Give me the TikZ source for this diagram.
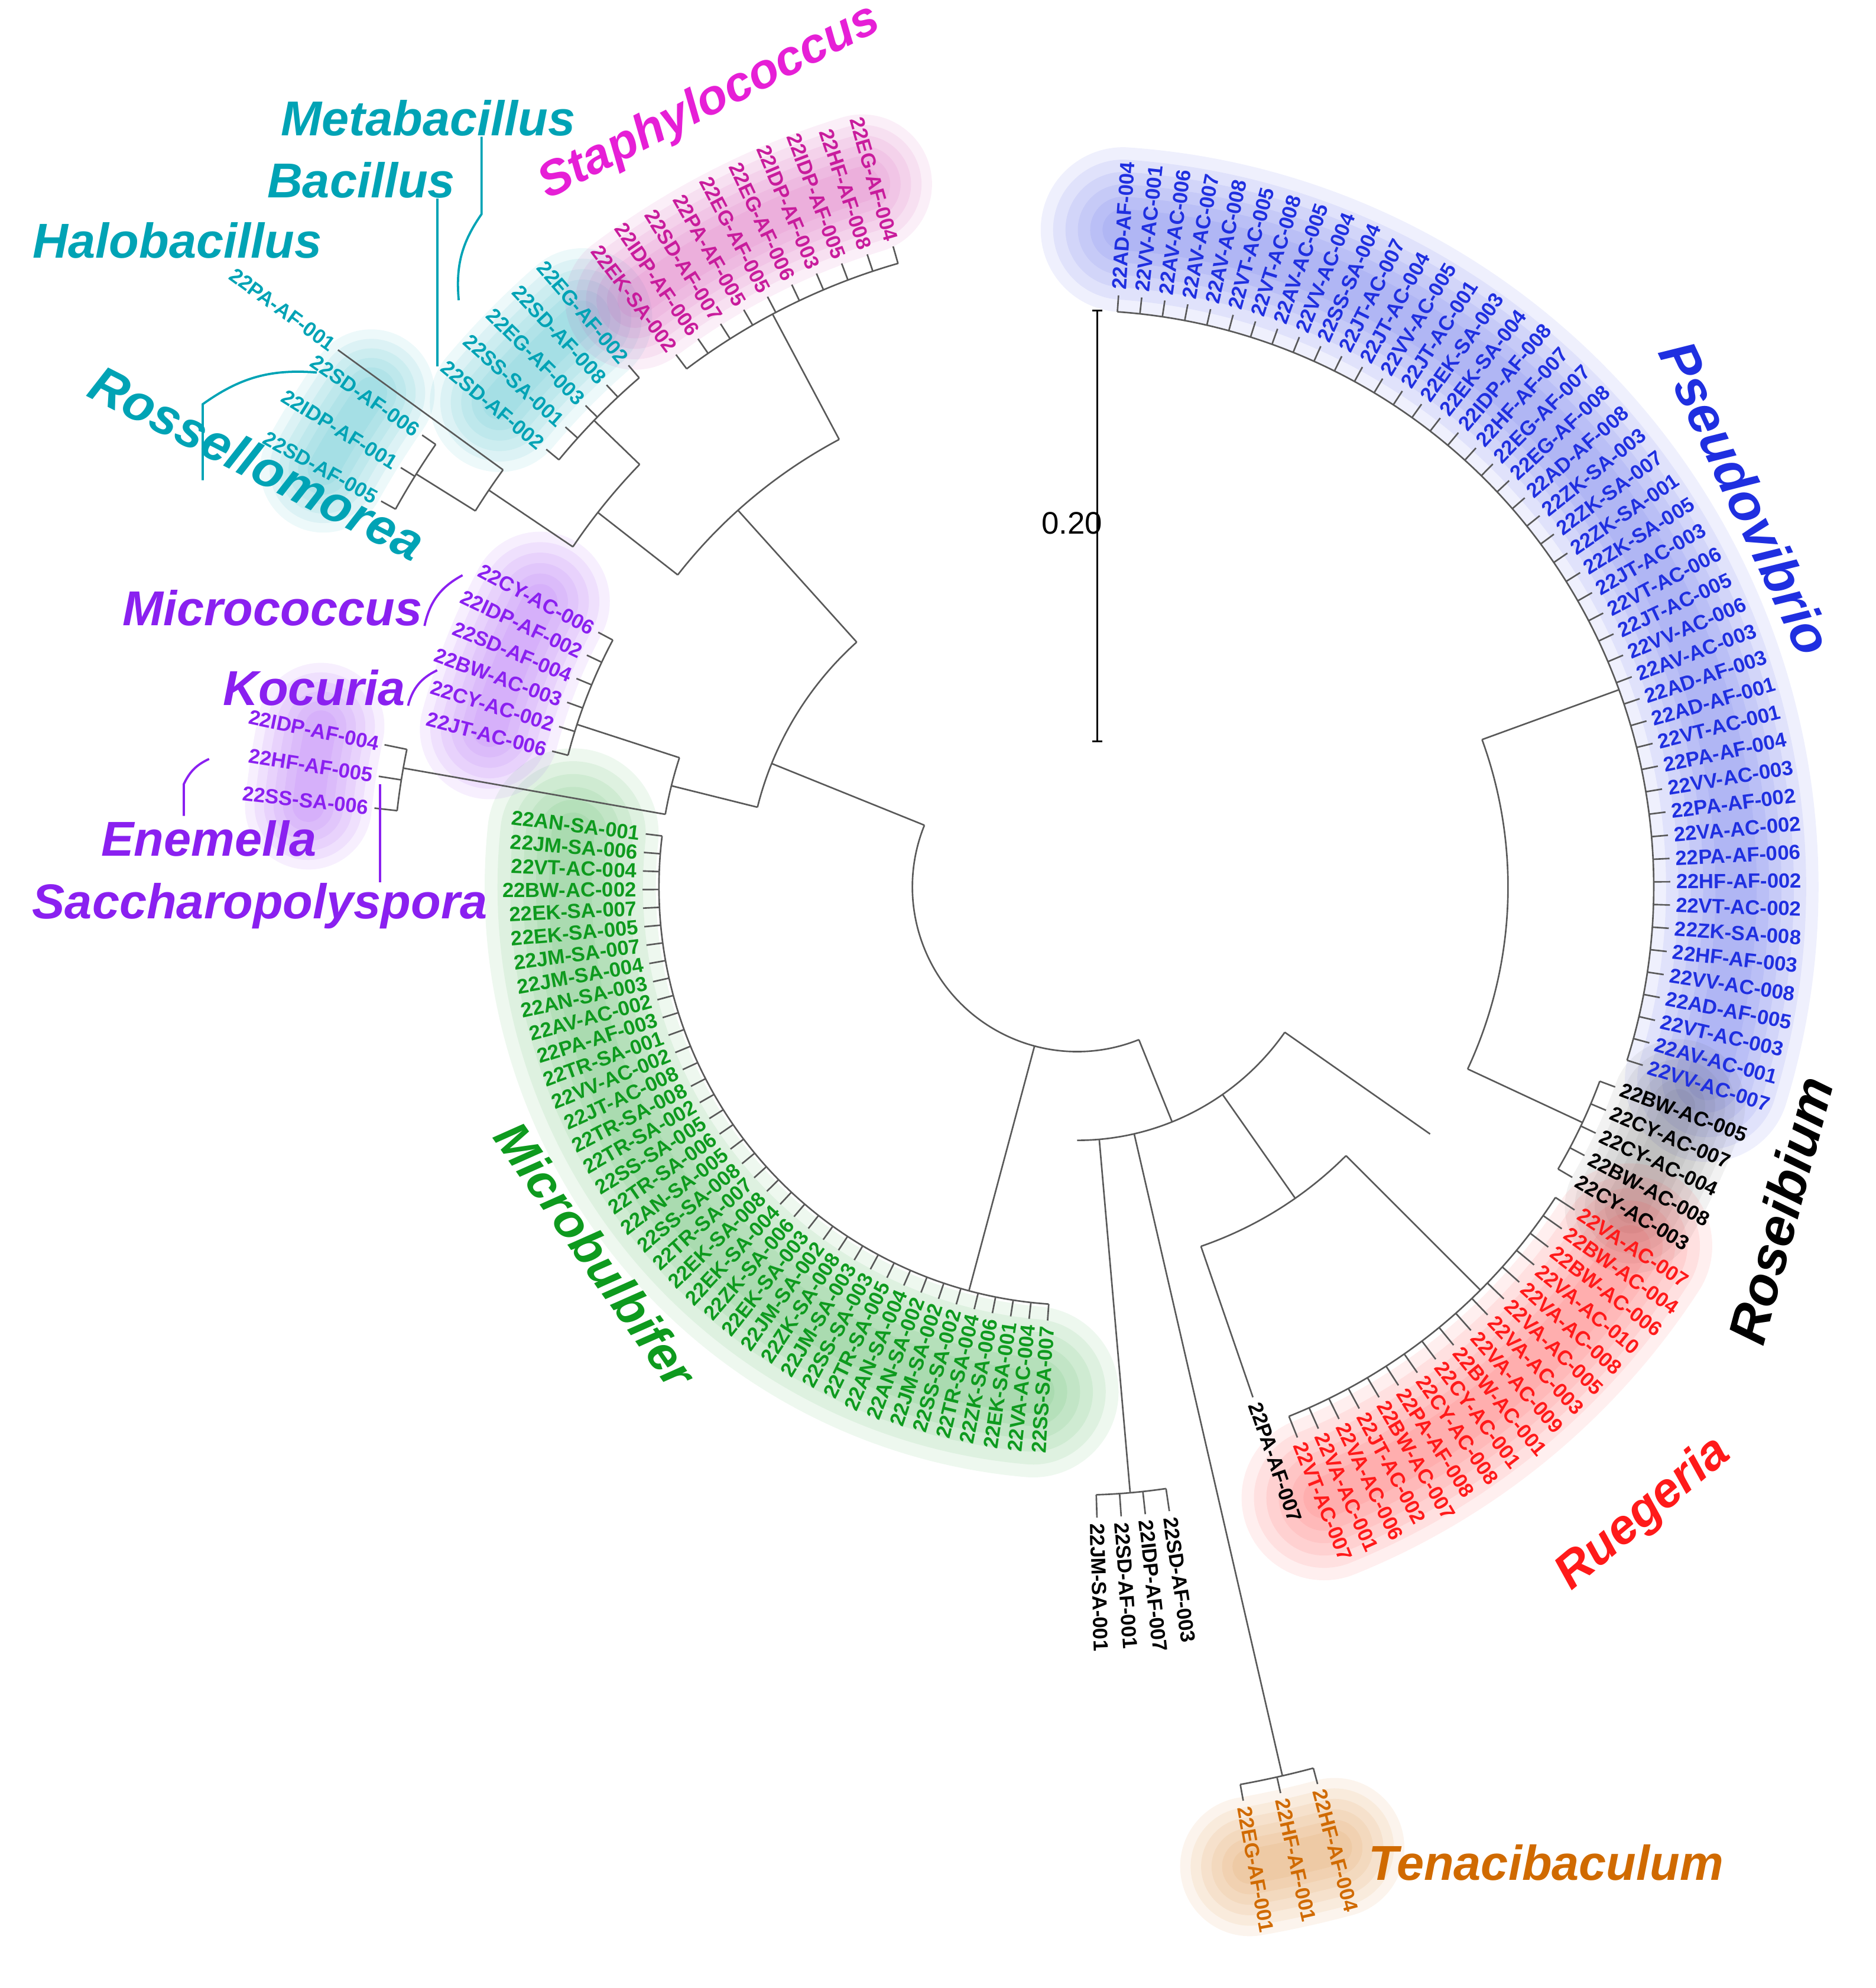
\documentclass[tikz,border=0pt]{standalone}
\usepackage{fontspec}
\setmainfont{Liberation Sans}
\usetikzlibrary{positioning}
\pgfdeclarelayer{bg}
\pgfsetlayers{bg,main}
\definecolor{pvblue}{HTML}{1F2FE0}
\definecolor{mbgreen}{HTML}{0E9A1E}
\definecolor{rgred}{HTML}{FF1A1A}
\definecolor{tnorange}{HTML}{D06A00}
\definecolor{cycyan}{HTML}{00A3B5}
\definecolor{mgpink}{HTML}{C81C9C}
\definecolor{stmag}{HTML}{E61FD6}
\definecolor{pupurple}{HTML}{8A20F0}
\tikzset{leaf/.style={font=\fontsize{4.6}{5}\selectfont\bfseries,inner sep=0.6pt},
  branch/.style={line width=0.35pt,draw=black!65},
  genus/.style={font=\fontsize{11}{13}\selectfont\bfseries\itshape,inner sep=0pt},
  glow/.style={line width=#1,opacity=0.07,line cap=round}}
% prefix, start, step, end, radius, inner radius, colour, leaves
\newcommand\clade[8]{%
  \foreach \nm [count=\i from 0] in {#8} {
    \pgfmathsetmacro\a{#2+#3*\i}
    \pgfmathtruncatemacro\flip{ifthenelse(and(\a>90,\a<270),1,0)}
    \pgfmathsetmacro\b{\a-180}
    \pgfmathsetmacro\rt{#5-2}
    \ifnum\flip=1
      \node[leaf,text=#7,rotate=\b,anchor=east] (#1\i) at (\a:#5) {\nm};
    \else
      \node[leaf,text=#7,rotate=\a,anchor=west] (#1\i) at (\a:#5) {\nm};
    \fi
    \coordinate (#1t\i) at (\a:\rt);
    \coordinate (#1b\i) at (\a:#6);
    \draw[branch] (#1t\i) -- (#1b\i);
  }
  \draw[branch] (#2:#6) arc[start angle=#2,end angle=#4,radius=#6];
}
\newcommand\halo[5]{% start, end, radius, colour, width
  \foreach \f in {1,0.85,0.7,0.55,0.4,0.25}
    \draw[glow=#5cm*\f,#4] (#1:#3) arc[start angle=#1,end angle=#2,radius=#3];
}

\begin{document}
\begin{tikzpicture}[x=0.01cm,y=0.01cm]
\useasboundingbox (0,0) rectangle (1480,1569);

\begin{scope}[shift={(850,869)}]
  % halos
  \begin{pgfonlayer}{bg}
    \halo{86}{-17}{520}{pvblue}{1.3}
    \halo{-20}{-30}{505}{black!70}{1.05}
    \halo{-33}{-68}{520}{rgred}{1.3}
    \halo{-75}{-80}{785}{tnorange}{1.1}
    \halo{174}{265}{400}{mbgreen}{1.35}
    \halo{152}{165}{480}{pupurple}{1.1}
    \halo{168}{174}{610}{pupurple}{1.0}
    \halo{131}{140}{595}{cycyan}{1.1}
    \halo{145}{151}{680}{cycyan}{1.0}
    \halo{107}{127}{580}{mgpink}{1.1}
  \end{pgfonlayer}

  \clade{pv}{86}{-2.25}{-17.5}{470}{455}{pvblue}{22AD-AF-004,22VV-AC-001,22AV-AC-006,22AV-AC-007,22AV-AC-008,22VT-AC-005,22VT-AC-008,22AV-AC-005,22VV-AC-004,22SS-SA-004,22JT-AC-007,22JT-AC-004,22VV-AC-005,22JT-AC-001,22EK-SA-003,22EK-SA-004,22IDP-AF-008,22HF-AF-007,22EG-AF-007,22EG-AF-008,22AD-AF-008,22ZK-SA-003,22ZK-SA-007,22ZK-SA-001,22ZK-SA-005,22JT-AC-003,22VT-AC-006,22JT-AC-005,22VV-AC-006,22AV-AC-003,22AD-AF-003,22AD-AF-001,22VT-AC-001,22PA-AF-004,22VV-AC-003,22PA-AF-002,22VA-AC-002,22PA-AF-006,22HF-AF-002,22VT-AC-002,22ZK-SA-008,22HF-AF-003,22VV-AC-008,22AD-AF-005,22VT-AC-003,22AV-AC-001,22VV-AC-007}
  \clade{rs}{-20.4}{-2.5}{-30.4}{455}{440}{black}{22BW-AC-005,22CY-AC-007,22CY-AC-004,22BW-AC-008,22CY-AC-003}
  \clade{rg}{-33}{-2.2}{-68.2}{470}{450}{rgred}{22VA-AC-007,22BW-AC-004,22BW-AC-006,22VA-AC-010,22VA-AC-008,22VA-AC-005,22VA-AC-003,22VA-AC-009,22BW-AC-001,22CY-AC-001,22CY-AC-008,22PA-AF-008,22BW-AC-007,22JT-AC-002,22VA-AC-006,22VA-AC-001,22VT-AC-007}
  \clade{pa}{-71}{0}{-71}{428}{300}{black}{22PA-AF-007}
  \clade{tn}{-75}{-2.35}{-79.7}{735}{720}{tnorange}{22HF-AF-004,22HF-AF-001,22EG-AF-001}
  \clade{bk}{-81.6}{-2.2}{-88.2}{500}{480}{black}{22SD-AF-003,22IDP-AF-007,22SD-AF-001,22JM-SA-001}
  \clade{mb}{173}{2.45}{266.1}{345}{330}{mbgreen}{22AN-SA-001,22JM-SA-006,22VT-AC-004,22BW-AC-002,22EK-SA-007,22EK-SA-005,22JM-SA-007,22JM-SA-004,22AN-SA-003,22AV-AC-002,22PA-AF-003,22TR-SA-001,22VV-AC-002,22JT-AC-008,22TR-SA-008,22TR-SA-002,22SS-SA-005,22TR-SA-006,22AN-SA-005,22SS-SA-008,22TR-SA-007,22EK-SA-008,22EK-SA-004,22ZK-SA-006,22EK-SA-003,22JM-SA-002,22ZK-SA-008,22JM-SA-003,22SS-SA-003,22TR-SA-005,22AN-SA-004,22AN-SA-002,22JM-SA-002,22SS-SA-002,22TR-SA-004,22ZK-SA-006,22EK-SA-001,22VA-AC-004,22SS-SA-007}
  \clade{pk}{152}{2.7}{165.5}{430}{415}{pupurple}{22CY-AC-006,22IDP-AF-002,22SD-AF-004,22BW-AC-003,22CY-AC-002,22JT-AC-006}
  \clade{en}{168.4}{2.6}{173.6}{560}{540}{pupurple}{22IDP-AF-004,22HF-AF-005,22SS-SA-006}
  \clade{ra}{151}{-2.8}{145.4}{630}{615}{cycyan}{22SD-AF-005,22IDP-AF-001,22SD-AF-006}
  \clade{hb}{144}{0}{144}{723}{560}{cycyan}{22PA-AF-001}
  \clade{ba}{140.5}{-2.45}{130.7}{545}{530}{cycyan}{22SD-AF-002,22SS-SA-001,22EG-AF-003,22SD-AF-008,22EG-AF-002}
  \clade{st}{127}{-2.33}{106}{528}{512}{mgpink}{22EK-SA-002,22IDP-AF-006,22SD-AF-007,22PA-AF-005,22EG-AF-005,22EG-AF-006,22IDP-AF-003,22IDP-AF-005,22HF-AF-008,22EG-AF-004}

  % backbone
  \draw[branch] (158:130) arc[start angle=158,end angle=292,radius=130];
  \draw[branch] (158:130) -- (158:260);
  \draw[branch] (132:260) arc[start angle=132,end angle=166,radius=260];
  \draw[branch] (166:260) -- (166:330);
  \draw[branch] (162:330) arc[start angle=162,end angle=170,radius=330];
  \draw[branch] (162:330) -- (162:415);
  \draw[branch] (170:330) -- (170:540);
  \draw[branch] (132:260) -- (132:400);
  \draw[branch] (118:400) arc[start angle=118,end angle=142,radius=400];
  \draw[branch] (118:400) -- (118:512);
  \draw[branch] (142:400) -- (142:480);
  \draw[branch] (136:480) arc[start angle=136,end angle=146,radius=480];
  \draw[branch] (136:480) -- (136:530);
  \draw[branch] (146:480) -- (146:560);
  \draw[branch] (144:560) arc[start angle=144,end angle=148,radius=560];
  \draw[branch] (148:560) -- (148:615);
  \draw[branch] (255:130) -- (255:330);
  \draw[branch] (292:130) -- (292:200);
  \draw[branch] (-90:200) arc[start angle=-90,end angle=-35,radius=200];
  \draw[branch] (-85:200) -- (-85:480);
  \draw[branch] (-77:200) -- (-77:720);
  \draw[branch] (-55:200) -- (-55:300);
  \draw[branch] (-71:300) arc[start angle=-71,end angle=-45,radius=300];
  \draw[branch] (-45:300) -- (-45:450);
  \draw[branch] (-35:200) -- (-35:340);
  \draw[branch] (-25:340) arc[start angle=-25,end angle=20,radius=340];
  \draw[branch] (-25:340) -- (-25:440);
  \draw[branch] (20:340) -- (20:455);
\end{scope}

% scale bar
\coordinate (sbtop) at (866,1324);
\coordinate (sbbot) at (866,984);
\draw[branch,black] (sbtop) -- (sbbot);
\draw[branch,black] ([xshift=-0.04cm]sbtop) -- ([xshift=0.04cm]sbtop);
\draw[branch,black] ([xshift=-0.04cm]sbbot) -- ([xshift=0.04cm]sbbot);
\node[font=\fontsize{7}{8}\selectfont] (sblabel) at (846,1156) {0.20};

% genus names
\node[genus,text=cycyan] (meta) at (338,1476) {Metabacillus};
\node[genus,text=cycyan] (baci) at (285,1427) {Bacillus};
\node[genus,text=cycyan] (halo) at (140,1379) {Halobacillus};
\node[genus,text=stmag,rotate=27] (staph) at (560,1488) {Staphylococcus};
\node[genus,text=cycyan,rotate=-27,font=\fontsize{11.5}{14}\selectfont\bfseries\itshape] (ross) at (203,1204) {Rossellomorea};
\node[genus,text=pupurple] (micro) at (215,1089) {Micrococcus};
\node[genus,text=pupurple] (koc) at (248,1026) {Kocuria};
\node[genus,text=pupurple] (enem) at (165,907) {Enemella};
\node[genus,text=pupurple] (sacch) at (205,854) {Saccharopolyspora};
\node[genus,text=pvblue,rotate=-65,font=\fontsize{12}{14}\selectfont\bfseries\itshape] (pseudo) at (1378,1176) {Pseudovibrio};
\node[genus,text=black,rotate=75,font=\fontsize{12}{14}\selectfont\bfseries\itshape] (rosei) at (1405,614) {Roseibium};
\node[genus,text=rgred,rotate=40] (rueg) at (1297,374) {Ruegeria};
\node[genus,text=tnorange] (tena) at (1220,99) {Tenacibaculum};
\node[genus,text=mbgreen,rotate=-55] (mbul) at (470,579) {Microbulbifer};

% leader lines
\coordinate (metaA) at (380,1400);
\coordinate (metaB) at (362,1332);
\draw[cycyan,line width=0.5pt] (meta.south -| metaA) -- (metaA) to[bend right=20] (metaB);
\coordinate (baciA) at (345,1280);
\draw[cycyan,line width=0.5pt] (baci.south -| baciA) -- (baciA);
\coordinate (rossA) at (160,1190);
\coordinate (rossB) at (250,1275);
\draw[cycyan,line width=0.5pt] (rossA) -- (160,1250) to[bend left=20] (rossB);
\coordinate (microA) at (335,1075);
\coordinate (microB) at (365,1115);
\draw[pupurple,line width=0.5pt] (microA) to[bend left=25] (microB);
\coordinate (kocA) at (322,1012);
\coordinate (kocB) at (345,1040);
\draw[pupurple,line width=0.5pt] (kocA) to[bend left=25] (kocB);
\coordinate (enemA) at (145,925);
\coordinate (enemB) at (165,970);
\draw[pupurple,line width=0.5pt] (enemA) -- (145,950) to[bend left=20] (enemB);
\coordinate (sacchA) at (300,950);
\draw[pupurple,line width=0.5pt] (sacch.north -| sacchA) -- (sacchA);
\end{tikzpicture}
\end{document}
